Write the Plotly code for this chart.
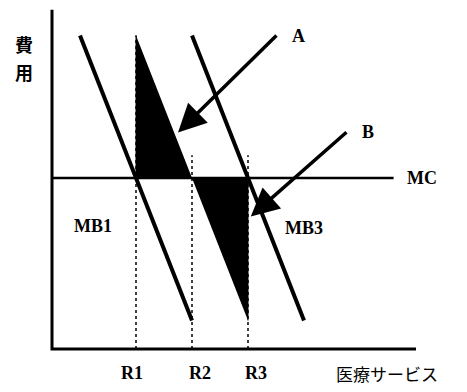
import plotly.graph_objects as go

# Economic coordinates (quantity on x, cost on y)
mc_level = 6
mc_end = 12.2
R_labels = ["R1", "R2", "R3"]
R_values = [3, 5, 7]
R_tops = [11, 6.8, 6.8]
# marginal benefit lines: (x_top, y_top) -> (x_bottom, y_bottom)
MB1_x = [1, 5]
MB1_y = [11, 1]
MB2_x = [3, 7]
MB2_y = [11, 1]
MB3_x = [5, 9]
MB3_y = [11, 1]
x_axis_end = 13
y_axis_top = 11.9

# shaded loss triangles
A_x = [3, 3, 5]
A_y = [11, 6, 6]
B_x = [5, 7, 7]
B_y = [6, 6, 1]

SX = 28.0    # px per x unit
SY = 28.5    # px per y unit
OX = 52
OY = 349
W, H = 467, 392

fig = go.Figure()

fig.add_trace(go.Scatter(x=A_x, y=A_y, fill="toself", fillcolor="black",
                         mode="lines", line=dict(color="black", width=1)))
fig.add_trace(go.Scatter(x=B_x, y=B_y, fill="toself", fillcolor="black",
                         mode="lines", line=dict(color="black", width=1)))

for xv, yt in zip(R_values, R_tops):
    fig.add_trace(go.Scatter(x=[xv, xv], y=[0, yt], mode="lines",
                             line=dict(color="black", width=1.5, dash="dot")))

fig.add_trace(go.Scatter(x=[0, mc_end], y=[mc_level, mc_level], mode="lines",
                         line=dict(color="black", width=2.5)))

fig.add_trace(go.Scatter(x=MB1_x, y=MB1_y, mode="lines", line=dict(color="black", width=4)))
fig.add_trace(go.Scatter(x=MB3_x, y=MB3_y, mode="lines", line=dict(color="black", width=4)))

fig.add_trace(go.Scatter(x=[0, 0, x_axis_end], y=[y_axis_top, 0, 0], mode="lines",
                         line=dict(color="black", width=3)))

serif = "Liberation Serif"
lab_font = dict(family=serif, size=18, color="black")
cjk_bold = dict(family="Noto Sans CJK JP", size=18, color="black")
anns = []
for lab, xv in zip(R_labels, R_values):
    anns.append(dict(x=xv - 0.15 if lab == "R1" else xv + 0.3, y=-0.85, text="<b>" + lab + "</b>",
                     showarrow=False, font=lab_font))
anns += [
    dict(x=11.95, y=-0.85, text="医療サービス", showarrow=False,
         font=dict(family="Noto Sans CJK JP", size=17, color="black")),
    dict(x=-1.0, y=10.7, text="<b>費</b>", showarrow=False, font=cjk_bold, borderpad=0),
    dict(x=-1.0, y=9.72, text="<b>用</b>", showarrow=False, font=cjk_bold, borderpad=0),
    dict(x=13.2, y=6.0, text="<b>MC</b>", showarrow=False, font=lab_font),
    dict(x=1.45, y=4.3, text="<b>MB1</b>", showarrow=False, font=lab_font),
    dict(x=9.0, y=4.25, text="<b>MB3</b>", showarrow=False, font=lab_font),
    dict(x=8.8, y=11.0, text="<b>A</b>", showarrow=False, font=lab_font),
    dict(x=11.3, y=7.6, text="<b>B</b>", showarrow=False, font=lab_font),
    dict(x=4.5, y=7.6, ax=8.07, ay=11.05, axref="x", ayref="y", xref="x", yref="y",
         text="", showarrow=True, arrowhead=2, arrowsize=1.6, arrowwidth=3.5, arrowcolor="black"),
    dict(x=7.1, y=4.65, ax=10.57, ay=7.65, axref="x", ayref="y", xref="x", yref="y",
         text="", showarrow=True, arrowhead=2, arrowsize=1.6, arrowwidth=3.5, arrowcolor="black"),
]

fig.update_layout(
    width=W, height=H, margin=dict(l=0, r=0, t=0, b=0),
    paper_bgcolor="white", plot_bgcolor="white", showlegend=False,
    xaxis=dict(range=[-OX / SX, (W - OX) / SX], visible=False, fixedrange=True),
    yaxis=dict(range=[(OY - H) / SY, OY / SY], visible=False, fixedrange=True),
    annotations=anns,
)
fig.write_html("out.html", config={"displayModeBar": False},
               post_script="document.body.style.margin='0';")
